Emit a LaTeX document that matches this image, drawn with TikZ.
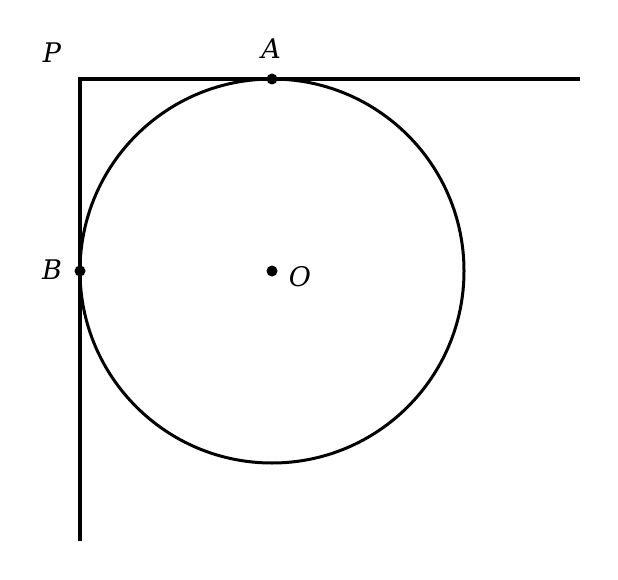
\documentclass[tikz,border=0pt]{standalone}
\usepackage{fontspec}
\setmainfont{DejaVu Serif}
\usepackage{tikz}
\tikzstyle{LineSide}=[black,line width=4.4pt,line join=miter]
\tikzstyle{LineCircle}=[black,line width=3pt]
\tikzstyle{PointDot}=[circle,fill=black,inner sep=0pt,minimum size=11pt]
\tikzstyle{PointLabel}=[inner sep=0pt,font=\fontsize{27}{31}\selectfont\itshape]

\begin{document}
\begin{tikzpicture}[x=1pt,y=-1pt]
        \useasboundingbox(0,0)rectangle(618,580);
        \coordinate(P)at(80,79);
        \coordinate(E)at(580,79);
        \coordinate(F)at(80,541);
        \node[PointDot](A)at(272,79){};
        \node[PointDot](B)at(80,271){};
        \node[PointDot](O)at(272,271){};
        \draw[LineCircle](O)circle(192);
        \draw[LineSide](E)--(P)--(F);
        \node[PointLabel](LP)at(52,53){P};
        \node[PointLabel](LA)at(271,49){A};
        \node[PointLabel](LB)at(52,270){B};
        \node[PointLabel](LO)at(300,277){O};
    \end{tikzpicture}
\end{document}
